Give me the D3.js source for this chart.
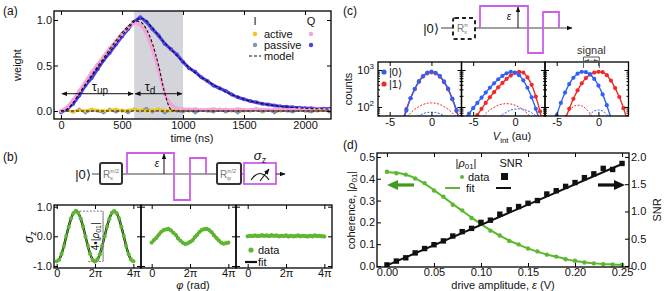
<!DOCTYPE html>
<html>
<head>
<meta charset="utf-8">
<script src="https://cdn.jsdelivr.net/npm/d3@7"></script>
<style>
body { margin: 0; background: #fff; }
svg { display: block; font-family: "Liberation Sans", Arial, sans-serif; }
.axis text { font-size: 11px; fill: #111; font-family: "Liberation Sans", Arial, sans-serif; }
.axis line { stroke: #000; }
</style>
</head>
<body>
<script>
// ---------- data ----------
// (a) time traces, sampled every 50 ns from 0 to 2200 ns
const timeNs = d3.range(0, 2201, 50);
const qPassive = [-0.01,0.02,0.08,0.17,0.28,0.36,0.46,0.56,0.64,0.73,
                  0.82,0.90,0.98,1.03,0.98,0.90,0.83,0.74,0.68,0.62,
                  0.54,0.47,0.43,0.37,0.33,0.28,0.25,0.22,0.18,0.15,
                  0.13,0.11,0.095,0.08,0.07,0.06,0.05,0.047,0.04,0.036,
                  0.03,0.03,0.025,0.026,0.024];
const qPassiveModel = [0.00,0.02,0.09,0.19,0.29,0.38,0.47,0.56,0.65,0.74,
                       0.83,0.91,0.98,1.02,0.99,0.91,0.83,0.75,0.68,0.61,
                       0.54,0.48,0.42,0.37,0.33,0.29,0.25,0.21,0.18,0.155,
                       0.13,0.11,0.095,0.08,0.07,0.06,0.05,0.044,0.039,0.034,
                       0.03,0.027,0.025,0.023,0.022];
const qActive = [0.00,0.04,0.12,0.22,0.32,0.42,0.51,0.60,0.69,0.77,
                 0.85,0.92,0.97,0.95,0.86,0.68,0.45,0.19,0.07,0.03,
                 0.02,0.015,0.02,0.01,0.015,0.02,0.01,0.015,0.01,0.02,
                 0.015,0.01,0.02,0.015,0.01,0.015,0.02,0.01,0.015,0.02,
                 0.01,0.015,0.02,0.015,0.01];
const qActiveModel = [0.00,0.02,0.09,0.19,0.29,0.39,0.49,0.58,0.68,0.77,
                      0.86,0.93,0.99,0.98,0.90,0.74,0.50,0.20,0.02,0,
                      0,0,0,0,0,0,0,0,0,0,
                      0,0,0,0,0,0,0,0,0,0,
                      0,0,0,0,0];
const iActive = [0.00,0.01,-0.01,0.01,0.00,0.02,0.01,0.00,0.01,0.02,
                 0.00,0.01,0.02,0.01,0.00,0.01,0.02,0.01,0.00,0.01,
                 0.01,0.00,0.02,0.01,0.00,0.01,0.01,0.02,0.00,0.01,
                 0.00,0.01,0.02,0.00,0.01,0.01,0.00,0.01,0.02,0.01,
                 0.00,0.01,0.00,0.01,0.01];
const iPassive = [-0.02,0.01,-0.01,0.02,-0.02,0.01,0.00,-0.02,0.02,-0.01,
                  0.01,-0.02,0.02,0.00,0.03,-0.01,0.02,-0.02,0.01,0.00,
                  -0.01,0.02,-0.02,0.01,0.00,-0.01,0.02,-0.01,0.01,-0.02,
                  0.01,0.00,0.02,-0.01,0.01,-0.02,0.01,0.00,-0.01,0.02,
                  0.00,-0.01,0.01,0.02,-0.01];
const iModelLevel = 0;
const pulseWindow = [600, 1000];
const aXTicks = [0, 500, 1000, 1500, 2000];
const aYTicks = [0, 0.5, 1.0];

// (b) Ramsey fringes, phase = k*pi/8, k = 0..32
const phaseK = d3.range(0, 33);
const bData1 = [-0.84,-0.79,-0.59,-0.33,0.01,0.32,0.61,0.78,0.86,0.79,0.60,0.33,-0.01,-0.32,-0.60,-0.79,
                -0.85,-0.78,-0.61,-0.32,0.00,0.33,0.59,0.79,0.85,0.78,0.61,0.32,0.01,-0.33,-0.60,-0.78,-0.84];
const bFit1 = [-0.85,-0.785,-0.601,-0.325,0,0.325,0.601,0.785,0.85,0.785,0.601,0.325,0,-0.325,-0.601,-0.785,
               -0.85,-0.785,-0.601,-0.325,0,0.325,0.601,0.785,0.85,0.785,0.601,0.325,0,-0.325,-0.601,-0.785,-0.85];
const bData2 = [-0.21,-0.12,-0.05,0.06,0.15,0.21,0.23,0.25,0.20,0.12,0.05,-0.07,-0.15,-0.22,-0.26,-0.24,
                -0.19,-0.14,-0.03,0.05,0.15,0.22,0.24,0.25,0.21,0.14,0.03,-0.05,-0.14,-0.21,-0.25,-0.23,-0.21];
const bFit2 = [-0.202,-0.13,-0.039,0.058,0.147,0.213,0.247,0.243,0.202,0.13,0.039,-0.058,-0.147,-0.213,-0.247,-0.243,
               -0.202,-0.13,-0.039,0.058,0.147,0.213,0.247,0.243,0.202,0.13,0.039,-0.058,-0.147,-0.213,-0.247,-0.243,-0.202];
const bData3 = [0.00,0.02,0.01,0.03,0.01,0.02,0.04,0.02,0.03,0.01,0.04,0.02,0.03,0.00,0.02,0.01,
                0.03,-0.01,0.02,0.00,0.01,0.03,0.00,0.02,0.01,-0.01,0.02,0.00,0.03,0.01,0.02,0.00,-0.01];
const bFit3Level = 0.01;
const rhoAmplitude = 0.85;
const bYTicks = [-1, 0, 1];

// (c) histograms, V_int bins
const vBins = [-6,-5.5,-5,-4.5,-4,-3.5,-3,-2.5,-2,-1.5,-1,-0.5,0,0.5,1,1.5,2,2.5,3,3.5];
const c1Zero = [1,1,2,4,13,35,80,172,306,498,684,845,905,838,692,490,312,168,83,33];
const c1One  = [1,1,2,5,15,38,88,172,305,480,665,810,860,805,660,470,300,162,78,32];
const c1ZeroDash = [4,6,8,11,15,21,30,39,49,58,66,71,72,71,66,58,49,39,30,21];
const c1OneDash  = [4,7,11,17,26,38,52,69,87,102,117,126,129,126,117,102,87,69,52,38];
const c2Zero = [50,66,93,129,178,245,331,437,562,692,813,891,851,724,525,331,182,89,38,13];
const c2One  = [16,25,40,60,89,129,182,251,339,447,575,708,832,891,851,631,398,191,76,25];
const c2ZeroDash = [2,3,5,8,12,19,28,38,50,63,72,83,87,89,87,79,69,58,45,34];
const c2OneDash  = [11,17,25,36,50,66,83,98,112,120,123,120,112,98,83,66,50,36,25,17];
const c3Zero = [7,23,59,129,245,417,617,794,891,871,759,575,380,219,112,49,18,6,2,1];
const c3One  = [1,2,4,20,45,89,166,282,437,603,759,851,891,871,724,513,324,186,93,40];
const c3ZeroDash = [1,1,1,1,2,4,7,15,28,46,63,78,83,78,63,46,28,15,7,4];
const c3OneDash  = [4,9,18,34,56,81,102,112,107,90,66,43,24,12,5,2,1,1,1,1];
const signalEnds = [-1.8, 0.1];
const cXTicks = [-5, 0];

// (d) coherence and SNR vs drive amplitude
const driveAmp = [0,0.01,0.02,0.03,0.04,0.05,0.06,0.07,0.08,0.09,0.10,0.11,0.12,
                  0.13,0.14,0.15,0.16,0.17,0.18,0.19,0.20,0.21,0.22,0.23,0.24,0.25];
const rhoData = [0.432,0.425,0.419,0.401,0.380,0.346,0.318,0.281,0.255,0.220,0.194,0.162,0.140,
                 0.115,0.099,0.080,0.067,0.052,0.043,0.031,0.024,0.016,0.012,0.008,0.007,0.006];
const rhoFit = [0.430,0.427,0.418,0.402,0.378,0.348,0.316,0.284,0.253,0.222,0.192,0.164,0.139,
                0.117,0.098,0.081,0.066,0.053,0.042,0.032,0.023,0.017,0.012,0.009,0.007,0.005];
const snrData = [0.02,0.09,0.15,0.24,0.32,0.39,0.46,0.55,0.63,0.69,0.80,0.84,0.95,
                 1.03,1.09,1.15,1.20,1.32,1.38,1.46,1.53,1.62,1.69,1.79,1.77,1.88];
const snrFitEnds = [0.01, 1.87];
const dXTicks = [0, 0.05, 0.10, 0.15, 0.20, 0.25];
const dYTicks = [0, 0.1, 0.2, 0.3, 0.4, 0.5];
const dY2Ticks = [0, 0.5, 1.0, 1.5, 2.0];

// ---------- colours ----------
const cYellow = '#f4c514', cPink = '#f6a2da', cViolet = '#4b3ff0', cGrayI = '#7d98a6';
const cBand = '#d3d5da', cGreen = '#5cb82e', cBlue = '#2f62f2', cRed = '#ee2b2b';
const cMagenta = '#cc5fea', cBox = '#333';

const svg = d3.select('body').append('svg').attr('width', 670).attr('height', 291);
svg.append('rect').attr('width', 670).attr('height', 291).attr('fill', '#fff');

const defs = svg.append('defs');
function marker(id, color, size) {
    defs.append('marker').attr('id', id).attr('viewBox', '0 0 10 10')
        .attr('refX', 9).attr('refY', 5).attr('markerWidth', size).attr('markerHeight', size)
        .attr('orient', 'auto-start-reverse').attr('markerUnits', 'userSpaceOnUse')
      .append('path').attr('d', 'M0,1 L10,5 L0,9 z').attr('fill', color);
}
marker('arrK', '#111', 6);
marker('arrG', '#555', 5);

function ax(g, fn, scale, tx, ty, ticks, fmt, size, pad) {
    const a = fn(scale).tickValues(ticks).tickSize(size == null ? -4 : size)
        .tickPadding(pad == null ? 2 : pad).tickFormat(fmt || (() => ''));
    const s = g.append('g').attr('class', 'axis').attr('transform', `translate(${tx},${ty})`).call(a);
    s.select('.domain').remove();
    return s;
}
function border(g, x, y) {
    const [x0, x1] = x.range(), [y0, y1] = y.range();
    g.append('rect').attr('x', x0).attr('y', y1).attr('width', x1 - x0).attr('height', y0 - y1)
        .attr('fill', 'none').attr('stroke', '#000').attr('stroke-width', 1.3);
}
function clip(id, x, y) {
    const [x0, x1] = x.range(), [y0, y1] = y.range();
    defs.append('clipPath').attr('id', id).append('rect')
        .attr('x', x0).attr('y', y1).attr('width', x1 - x0).attr('height', y0 - y1);
    return svg.append('g').attr('clip-path', `url(#${id})`);
}
function txt(x, y, s, size, anchor) {
    return svg.append('text').attr('x', x).attr('y', y).attr('font-size', size || 11)
        .attr('text-anchor', anchor || 'start').attr('fill', '#111').text(s);
}
function gateLabel(x, y, sub, sup) {
    txt(x, y, 'R', 10).attr('fill', '#777');
    txt(x + 7, y + 2, sub, 6).attr('fill', '#777');
    txt(x + 7, y - 5, sup, 6).attr('fill', '#777');
}

// panel letters
txt(3, 15, '(a)', 12);
txt(3, 161, '(b)', 12);
txt(343, 15, '(c)', 12);
txt(343, 149, '(d)', 12);

// ===================== (a) =====================
const xa = d3.scaleLinear().domain([-57, 2213]).range([54, 331]);
const ya = d3.scaleLinear().domain([-0.088, 1.099]).range([119, 11]);
const gA = clip('clipA', xa, ya);

gA.append('rect').attr('x', xa(pulseWindow[0])).attr('y', ya.range()[1])
    .attr('width', xa(pulseWindow[1]) - xa(pulseWindow[0])).attr('height', ya.range()[0] - ya.range()[1])
    .attr('fill', cBand);

const lineA = d3.line().x((d, i) => xa(timeNs[i])).y(d => ya(d));
function trace(arr, color, w, r) {
    gA.append('path').datum(arr).attr('d', lineA).attr('fill', 'none')
        .attr('stroke', color).attr('stroke-width', w).attr('stroke-linejoin', 'round');
    gA.append('g').selectAll('circle').data(arr).enter().append('circle')
        .attr('cx', (d, i) => xa(timeNs[i])).attr('cy', d => ya(d)).attr('r', r).attr('fill', color);
}
trace(iPassive, cGrayI, 2.2, 1.6);
trace(iActive, cYellow, 2.4, 1.7);
trace(qPassive, cViolet, 3.2, 2.0);
trace(qActive, cPink, 3.2, 2.0);

const modelLine = d3.line().curve(d3.curveMonotoneX).x((d, i) => xa(timeNs[i])).y(d => ya(d));
[qPassiveModel, qActiveModel].forEach(m => {
    gA.append('path').datum(m).attr('d', modelLine).attr('fill', 'none')
        .attr('stroke', '#111').attr('stroke-width', 1.1).attr('stroke-dasharray', '3,2');
});
gA.append('line').attr('x1', xa(timeNs[0])).attr('x2', xa(timeNs[timeNs.length - 1]))
    .attr('y1', ya(iModelLevel)).attr('y2', ya(iModelLevel))
    .attr('stroke', '#111').attr('stroke-width', 1.1).attr('stroke-dasharray', '3,2');

// tau arrows
[[0, pulseWindow[0]], pulseWindow].forEach(p => {
    svg.append('line').attr('x1', xa(p[0]) + 1).attr('x2', xa(p[1]) - 1)
        .attr('y1', ya(0.19)).attr('y2', ya(0.19)).attr('stroke', '#111').attr('stroke-width', 1)
        .attr('marker-start', 'url(#arrK)').attr('marker-end', 'url(#arrK)');
});
const tUp = txt(xa(320), ya(0.225), '', 13, 'middle');
tUp.append('tspan').text('τ');
tUp.append('tspan').attr('font-size', 10).attr('dy', 3).text('up');
const tD = txt(xa(730), ya(0.225), '', 13, 'middle');
tD.append('tspan').text('τ');
tD.append('tspan').attr('font-size', 10).attr('dy', 3).text('d');

ax(svg, d3.axisBottom, xa, 0, ya.range()[0], aXTicks, d => d);
ax(svg, d3.axisTop, xa, 0, ya.range()[1], aXTicks);
ax(svg, d3.axisLeft, ya, xa.range()[0], 0, aYTicks, d3.format('.1f'));
ax(svg, d3.axisRight, ya, xa.range()[1], 0, aYTicks);
border(svg, xa, ya);
txt(192, 142, 'time (ns)', 11, 'middle');
txt(0, 0, 'weight', 11, 'middle').attr('transform', 'translate(21,65) rotate(-90)');

// legend (a)
txt(255, 25, 'I', 11, 'middle');
txt(311, 25, 'Q', 11, 'middle');
txt(264, 38, 'active', 11);
txt(264, 49, 'passive', 11);
txt(264, 60, 'model', 11);
svg.append('circle').attr('cx', 255).attr('cy', 34).attr('r', 2.2).attr('fill', cYellow);
svg.append('circle').attr('cx', 255).attr('cy', 45).attr('r', 2.2).attr('fill', cGrayI);
svg.append('circle').attr('cx', 311).attr('cy', 34).attr('r', 2.2).attr('fill', cPink);
svg.append('circle').attr('cx', 311).attr('cy', 45).attr('r', 2.2).attr('fill', cViolet);
svg.append('line').attr('x1', 249).attr('x2', 261).attr('y1', 56).attr('y2', 56)
    .attr('stroke', '#111').attr('stroke-width', 1.1).attr('stroke-dasharray', '3,2');

// ===================== (b) =====================
// circuit
function gateBox(x, y, w, h, sub, sup) {
    svg.append('rect').attr('x', x).attr('y', y).attr('width', w).attr('height', h).attr('rx', 2)
        .attr('fill', '#fff').attr('stroke', cBox).attr('stroke-width', 2);
    gateLabel(x + 3, y + h / 2 + 4, sub, sup);
}
svg.append('path').attr('d', 'M92,174 H244').attr('stroke', '#444').attr('stroke-width', 1.2).attr('fill', 'none');
svg.append('path').attr('d', 'M127,174 V153 H174 V200 H190 V158 H206 V174')
    .attr('fill', 'none').attr('stroke', cMagenta).attr('stroke-width', 1.8);
svg.append('line').attr('x1', 164).attr('x2', 164).attr('y1', 174).attr('y2', 154)
    .attr('stroke', '#111').attr('stroke-width', 1).attr('marker-end', 'url(#arrK)');
txt(157, 167, 'ε', 10, 'middle').attr('font-style', 'italic');
gateBox(100, 163, 22, 21, 'x', 'π/2');
gateBox(217, 163, 24, 21, 'φ', 'π/2');
txt(83, 179, '|0⟩', 13, 'middle');
svg.append('rect').attr('x', 244).attr('y', 163).attr('width', 32).attr('height', 21)
    .attr('fill', '#fff').attr('stroke', cMagenta).attr('stroke-width', 1.8);
svg.append('path').attr('d', 'M251,180 Q260,167 269,180').attr('fill', 'none').attr('stroke', '#111').attr('stroke-width', 1.2);
svg.append('line').attr('x1', 260).attr('y1', 181).attr('x2', 269).attr('y2', 169)
    .attr('stroke', '#111').attr('stroke-width', 1.1).attr('marker-end', 'url(#arrK)');
svg.append('path').attr('d', 'M276,174 H285').attr('stroke', '#444').attr('stroke-width', 1.2).attr('marker-end', 'url(#arrK)');
const sz = txt(260, 160, '', 13, 'middle');
sz.append('tspan').attr('font-style', 'italic').text('σ');
sz.append('tspan').attr('font-size', 9).attr('dy', 3).text('z');

// subplots
const yb = d3.scaleLinear().domain([-1.068, 1.056]).range([268, 205]);
const bPanels = [
    { x0: 54, x1: 141, zero: 56.7, data: bData1, fit: bFit1 },
    { x0: 141, x1: 236, zero: 151.7, data: bData2, fit: bFit2 },
    { x0: 236, x1: 332, zero: 247.7, data: bData3, fit: null }
];
const pxPerRad = 6.1;
const piFmt = d => d === 0 ? '0' : Math.round(d / Math.PI) + 'π';
bPanels.forEach((p, i) => {
    const xb = d3.scaleLinear().domain([(p.x0 - p.zero) / pxPerRad, (p.x1 - p.zero) / pxPerRad]).range([p.x0, p.x1]);
    const g = clip('clipB' + i, xb, yb);
    const phases = phaseK.map(k => k * Math.PI / 8);
    const ln = d3.line().curve(d3.curveMonotoneX).x((d, j) => xb(phases[j])).y(d => yb(d));
    if (p.fit) {
        g.append('path').datum(p.fit).attr('d', ln).attr('fill', 'none').attr('stroke', '#111').attr('stroke-width', 2.4);
    } else {
        g.append('line').attr('x1', xb(0)).attr('x2', xb(4 * Math.PI)).attr('y1', yb(bFit3Level)).attr('y2', yb(bFit3Level))
            .attr('stroke', '#111').attr('stroke-width', 2.4);
    }
    g.append('path').datum(p.data).attr('d', ln).attr('fill', 'none').attr('stroke', cGreen).attr('stroke-width', 1.2);
    g.append('g').selectAll('circle').data(p.data).enter().append('circle')
        .attr('cx', (d, j) => xb(phases[j])).attr('cy', d => yb(d)).attr('r', 2.1).attr('fill', cGreen);
    const xt = [0, 2 * Math.PI, 4 * Math.PI];
    ax(svg, d3.axisBottom, xb, 0, yb.range()[0], xt, piFmt, null, 1);
    ax(svg, d3.axisTop, xb, 0, yb.range()[1], xt);
    ax(svg, d3.axisLeft, yb, p.x0, 0, bYTicks, i === 0 ? (d => d.toFixed(1).replace('−', '-')) : null);
    ax(svg, d3.axisRight, yb, p.x1, 0, bYTicks);
    border(svg, xb, yb);
    if (i === 0) {
        // 4|rho01| annotation
        const a = [xb(Math.PI), xb(1.65 * Math.PI), xb(2.42 * Math.PI)];
        svg.append('line').attr('x1', a[0]).attr('x2', a[2]).attr('y1', yb(rhoAmplitude)).attr('y2', yb(rhoAmplitude))
            .attr('stroke', '#777').attr('stroke-width', 1).attr('stroke-dasharray', '2,1.5');
        svg.append('line').attr('x1', a[1]).attr('x2', a[2]).attr('y1', yb(-rhoAmplitude)).attr('y2', yb(-rhoAmplitude))
            .attr('stroke', '#777').attr('stroke-width', 1).attr('stroke-dasharray', '2,1.5');
        svg.append('line').attr('x1', a[2]).attr('x2', a[2]).attr('y1', yb(rhoAmplitude)).attr('y2', yb(-rhoAmplitude))
            .attr('stroke', '#777').attr('stroke-width', 1);
        const r = txt(0, 0, '', 10, 'middle').attr('transform', `translate(${a[2] - 4},${yb(0)}) rotate(-90)`);
        r.append('tspan').text('4•|');
        r.append('tspan').attr('font-style', 'italic').text('ρ');
        r.append('tspan').attr('font-size', 7).attr('dy', 2).text('01');
        r.append('tspan').attr('dy', -2).text('|');
    }
    if (i === 2) {
        svg.append('circle').attr('cx', 251).attr('cy', 250).attr('r', 2.6).attr('fill', cGreen);
        txt(258, 254, 'data', 11);
        svg.append('line').attr('x1', 245).attr('x2', 257).attr('y1', 262).attr('y2', 262).attr('stroke', '#111').attr('stroke-width', 2.2);
        txt(258, 266, 'fit', 11);
    }
});
const sy = txt(0, 0, '', 12, 'middle').attr('transform', 'translate(33,237) rotate(-90)');
sy.append('tspan').attr('font-style', 'italic').text('σ');
sy.append('tspan').attr('font-size', 9).attr('dy', 3).text('z');
const px = txt(193, 289, '', 11, 'middle');
px.append('tspan').attr('font-style', 'italic').text('φ');
px.append('tspan').text(' (rad)');

// ===================== (c) =====================
svg.append('path').attr('d', 'M441,28 H453 M475,28 H572').attr('stroke', '#444').attr('stroke-width', 1.2)
    .attr('fill', 'none').attr('marker-end', 'url(#arrK)');
svg.append('rect').attr('x', 453).attr('y', 18).attr('width', 22).attr('height', 21).attr('rx', 2)
    .attr('fill', '#fff').attr('stroke', '#222').attr('stroke-width', 2).attr('stroke-dasharray', '4,3');
gateLabel(457, 32, 'x', 'π');
txt(431, 33, '|0⟩', 13, 'middle');
svg.append('path').attr('d', 'M480,28 V6 H528 V53 H543 V12 H559 V28')
    .attr('fill', 'none').attr('stroke', cMagenta).attr('stroke-width', 1.8);
svg.append('line').attr('x1', 518).attr('x2', 518).attr('y1', 28).attr('y2', 7)
    .attr('stroke', '#111').attr('stroke-width', 1).attr('marker-end', 'url(#arrK)');
txt(509, 20, 'ε', 10, 'middle').attr('font-style', 'italic');

const yc = d3.scaleLog().domain([57, 1645]).range([116, 62]);
const cPanels = [
    { x0: 378, zero: c1Zero, one: c1One, zd: c1ZeroDash, od: c1OneDash },
    { x0: 461.5, zero: c2Zero, one: c2One, zd: c2ZeroDash, od: c2OneDash },
    { x0: 545, zero: c3Zero, one: c3One, zd: c3ZeroDash, od: c3OneDash }
];
const minorC = [60, 70, 80, 90, 200, 300, 400, 500, 600, 700, 800, 900];
cPanels.forEach((p, i) => {
    const xc = d3.scaleLinear().domain([-6.4, 3.6]).range([p.x0, p.x0 + 83.5]);
    const g = clip('clipC' + i, xc, yc);
    const ln = d3.line().curve(d3.curveMonotoneX).x((d, j) => xc(vBins[j])).y(d => yc(d));
    g.append('path').datum(p.od).attr('d', ln).attr('fill', 'none').attr('stroke', cRed).attr('stroke-width', 1).attr('stroke-dasharray', '2,1.5');
    g.append('path').datum(p.zd).attr('d', ln).attr('fill', 'none').attr('stroke', cBlue).attr('stroke-width', 1).attr('stroke-dasharray', '2,1.5');
    [[p.one, cRed], [p.zero, cBlue]].forEach(s => {
        g.append('path').datum(s[0]).attr('d', ln).attr('fill', 'none').attr('stroke', s[1]).attr('stroke-width', 1.4);
        g.append('g').selectAll('circle').data(s[0]).enter().append('circle')
            .attr('cx', (d, j) => xc(vBins[j])).attr('cy', d => yc(d)).attr('r', 2.1).attr('fill', s[1]);
    });
    ax(svg, d3.axisBottom, xc, 0, yc.range()[0], cXTicks, d => String(d));
    ax(svg, d3.axisTop, xc, 0, yc.range()[1], cXTicks);
    ax(svg, d3.axisLeft, yc, p.x0, 0, [100, 1000]);
    ax(svg, d3.axisRight, yc, p.x0 + 83.5, 0, [100, 1000]);
    ax(svg, d3.axisLeft, yc, p.x0, 0, minorC, null, -2);
    ax(svg, d3.axisRight, yc, p.x0 + 83.5, 0, minorC, null, -2);
    border(svg, xc, yc);
    if (i === 0) {
        [100, 1000].forEach(v => {
            const t = txt(p.x0 - 4, yc(v) + 4, '', 11, 'end');
            t.append('tspan').text('10');
            t.append('tspan').attr('font-size', 8).attr('dy', -5).text(v === 100 ? '2' : '3');
        });
        svg.append('circle').attr('cx', 384).attr('cy', 72).attr('r', 2.6).attr('fill', cBlue);
        svg.append('circle').attr('cx', 384).attr('cy', 84).attr('r', 2.6).attr('fill', cRed);
        txt(389, 76, '|0⟩', 11);
        txt(389, 88, '|1⟩', 11);
    }
    if (i === 2) {
        const s0 = xc(signalEnds[0]), s1 = xc(signalEnds[1]);
        svg.append('path').attr('d', `M${s0},68 V57 H${s1} V68`).attr('fill', 'none').attr('stroke', '#555').attr('stroke-width', 1);
        svg.append('line').attr('x1', s0 + 1).attr('x2', s1 - 1).attr('y1', 61).attr('y2', 61)
            .attr('stroke', '#555').attr('stroke-width', 0.8)
            .attr('marker-start', 'url(#arrG)').attr('marker-end', 'url(#arrG)');
        txt((s0 + s1) / 2, 54, 'signal', 11, 'middle').attr('fill', '#333');
    }
});
txt(0, 0, 'counts', 11, 'middle').attr('transform', 'translate(352,89) rotate(-90)');
const vl = txt(512, 140, '', 11, 'middle');
vl.append('tspan').attr('font-style', 'italic').text('V');
vl.append('tspan').attr('font-size', 8).attr('dy', 3).text('int');
vl.append('tspan').attr('dy', -3).text(' (au)');

// ===================== (d) =====================
const xd = d3.scaleLinear().domain([-0.0106, 0.2574]).range([377, 629]);
const yd = d3.scaleLinear().domain([-0.0046, 0.518]).range([267, 153]);
const yd2 = d3.scaleLinear().domain([-0.0184, 2.072]).range([267, 153]);
const gD = clip('clipD', xd, yd);
const lnRho = d3.line().curve(d3.curveMonotoneX).x((d, i) => xd(driveAmp[i])).y(d => yd(d));
gD.append('path').datum(rhoFit).attr('d', lnRho).attr('fill', 'none').attr('stroke', cGreen).attr('stroke-width', 2);
gD.append('g').selectAll('circle').data(rhoData).enter().append('circle')
    .attr('cx', (d, i) => xd(driveAmp[i])).attr('cy', d => yd(d)).attr('r', 2.2).attr('fill', cGreen);
gD.append('line').attr('x1', xd(driveAmp[0])).attr('x2', xd(driveAmp[driveAmp.length - 1]))
    .attr('y1', yd2(snrFitEnds[0])).attr('y2', yd2(snrFitEnds[1])).attr('stroke', '#111').attr('stroke-width', 2);
gD.append('g').selectAll('rect').data(snrData).enter().append('rect')
    .attr('x', (d, i) => xd(driveAmp[i]) - 2.7).attr('y', d => yd2(d) - 2.7)
    .attr('width', 5.4).attr('height', 5.4).attr('fill', '#111');

ax(svg, d3.axisBottom, xd, 0, yd.range()[0], dXTicks, d3.format('.2f'), null, 1);
ax(svg, d3.axisTop, xd, 0, yd.range()[1], dXTicks);
ax(svg, d3.axisLeft, yd, xd.range()[0], 0, dYTicks, d3.format('.1f'));
ax(svg, d3.axisRight, yd2, xd.range()[1], 0, dY2Ticks, d3.format('.1f'));
border(svg, xd, yd);

// arrows pointing to axes
svg.append('path').attr('d', 'M414,185 H396').attr('stroke', '#3f9a1e').attr('stroke-width', 3.2).attr('fill', 'none');
svg.append('path').attr('d', 'M387,185 L398,180 L398,190 z').attr('fill', '#3f9a1e');
svg.append('path').attr('d', 'M598,185 H616').attr('stroke', '#111').attr('stroke-width', 3.2).attr('fill', 'none');
svg.append('path').attr('d', 'M625,185 L614,180 L614,190 z').attr('fill', '#111');

// legend (d)
const lr = txt(466, 167, '', 11, 'middle');
lr.append('tspan').text('|');
lr.append('tspan').attr('font-style', 'italic').text('ρ');
lr.append('tspan').attr('font-size', 8).attr('dy', 1.5).text('01');
lr.append('tspan').attr('dy', -1.5).text('|');
txt(511, 167, 'SNR', 11, 'middle');
svg.append('circle').attr('cx', 462).attr('cy', 177).attr('r', 2).attr('fill', cGreen);
txt(468, 181, 'data', 11);
svg.append('rect').attr('x', 501).attr('y', 173).attr('width', 7).attr('height', 7).attr('fill', '#111');
svg.append('line').attr('x1', 445).attr('x2', 460).attr('y1', 188).attr('y2', 188).attr('stroke', cGreen).attr('stroke-width', 2);
txt(466, 192, 'fit', 11);
svg.append('line').attr('x1', 496).attr('x2', 511).attr('y1', 188).attr('y2', 188).attr('stroke', '#111').attr('stroke-width', 2);

const dl = txt(0, 0, '', 11, 'middle').attr('transform', 'translate(355,210) rotate(-90)');
dl.append('tspan').text('coherence, |');
dl.append('tspan').attr('font-style', 'italic').text('ρ');
dl.append('tspan').attr('font-size', 8).attr('dy', 2).text('01');
dl.append('tspan').attr('dy', -2).text('|');
txt(0, 0, 'SNR', 11, 'middle').attr('transform', 'translate(661,210) rotate(-90)');
const dx = txt(503, 289, '', 11, 'middle');
dx.append('tspan').text('drive amplitude, ');
dx.append('tspan').attr('font-style', 'italic').text('ε');
dx.append('tspan').text(' (V)');
</script>
</body>
</html>
